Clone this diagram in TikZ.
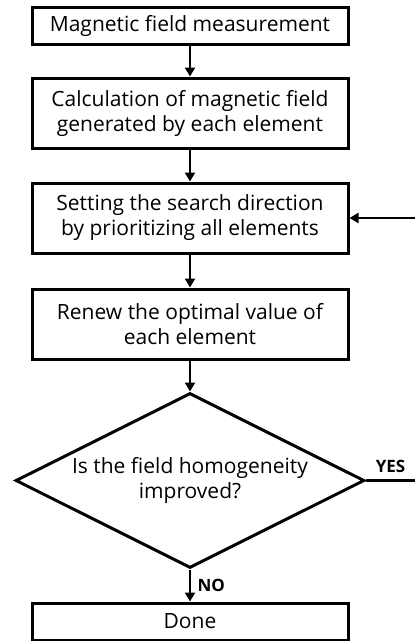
\documentclass[tikz,border=0pt]{standalone}
\usepackage{fontspec}
\setmainfont{Open Sans}
\usetikzlibrary{positioning,shapes.geometric,arrows.meta}

\begin{document}
\begin{tikzpicture}[x=1pt,y=1pt,
    box/.style={draw,line width=3pt,minimum width=316pt,align=center,
        inner sep=0pt,font=\fontsize{21}{25}\selectfont},
    decision/.style={diamond,aspect=2,draw,line width=3pt,minimum width=349pt,
        minimum height=175pt,align=center,inner sep=0pt,
        font=\fontsize{21}{25}\selectfont},
    flow/.style={line width=2.6pt,-{Triangle[length=9pt,width=10pt]}},
    lbl/.style={font=\bfseries\fontsize{17}{17}\selectfont}]
  \useasboundingbox (0,0) rectangle (415,-641);
  % steps
  \node[box,minimum height=37pt] (meas) at (190,-25.5) {Magnetic field measurement};
  \node[box,minimum height=70pt,below=31pt of meas] (calc)
    {Calculation of magnetic field\\generated by each element};
  \node[box,minimum height=70pt,below=32pt of calc] (search)
    {Setting the search direction\\by prioritizing all elements};
  \node[box,minimum height=70pt,below=33pt of search] (renew)
    {Renew the optimal value of\\each element};
  \node[decision,below=31pt of renew] (check)
    {Is the field homogeneity\\improved?};
  \node[box,minimum height=37pt,below=32pt of check] (done) {Done};
  % loop back, runs off the right side
  \coordinate (yesend) at (check.east -| 415,0);
  \coordinate (backin) at (search.east -| 415,0);
  \draw[flow] (meas) -- (calc);
  \draw[flow] (calc) -- (search);
  \draw[flow] (search) -- (renew);
  \draw[flow] (renew) -- (check);
  \draw[flow] (check) -- node[lbl,right=3pt] {NO} (done);
  \draw[line width=2.6pt] (check.east) -- node[lbl,above=3pt] {YES} (yesend);
  \draw[flow] (backin) -- (search.east);
\end{tikzpicture}
\end{document}
